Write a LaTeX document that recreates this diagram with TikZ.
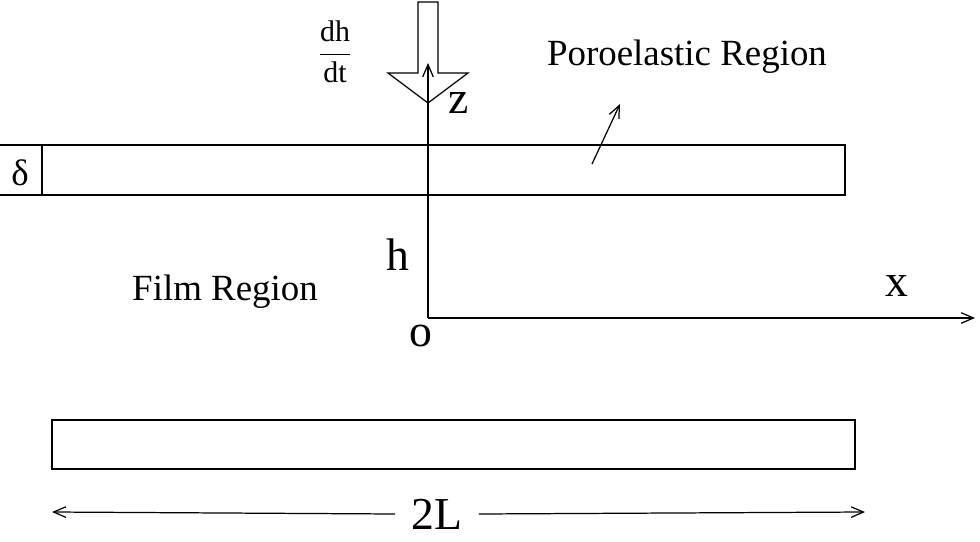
\documentclass[tikz,border=0pt]{standalone}
\usepackage{fontspec}
\setmainfont{Liberation Serif}
\usetikzlibrary{arrows.meta}
\begin{document}
\begin{tikzpicture}[x=0.02cm,y=-0.02cm,line width=0.7pt,
  lbl/.style={font=\fontsize{21}{24}\selectfont},
  big/.style={font=\fontsize{26}{29}\selectfont},
  arr/.style={-{Straight Barb[length=7pt,width=6pt]}}]
\useasboundingbox (0,0) rectangle (980,541);
% upper strip
\draw (0,145) -- (845,145) -- (845,195) -- (0,195);
\draw (42,145) -- (42,195);
\node[lbl] (delta) at (20,173) {δ};
% lower strip
\draw (52,420) rectangle (855,469);
% axes
\coordinate (O) at (428,318);
\coordinate (zend) at (428,63);
\coordinate (xend) at (975,318);
\draw[arr] (O) -- (zend);
\draw[arr] (O) -- (xend);
% hollow arrow
\draw (418,2) -- (438,2) -- (438,73) -- (468,73) -- (428,103) -- (388,73) -- (418,73) -- cycle;
\node[font=\fontsize{17}{20}\selectfont] (dhdt) at (335,52) {$\displaystyle\frac{\mathrm{dh}}{\mathrm{dt}}$};
\node[big] (z) at (459,103) {z};
\node[big] (h) at (398,255) {h};
\node[big] (o) at (421,336) {o};
\node[big] (x) at (897,286) {x};
\node[lbl] (poro) at (687,57) {Poroelastic Region};
\node[lbl] (film) at (225,292) {Film Region};
\coordinate (pa) at (592,164);
\coordinate (pb) at (620,104);
\draw[arr] (pa) -- (pb);
% 2L
\node[big] (L) at (437,514) {2L};
\coordinate (la) at (52,512);
\coordinate (lb) at (865,512);
\draw[arr] (L.west) ++(-10,0) -- (la);
\draw[arr] (L.east) ++(10,0) -- (lb);
\end{tikzpicture}
\end{document}
